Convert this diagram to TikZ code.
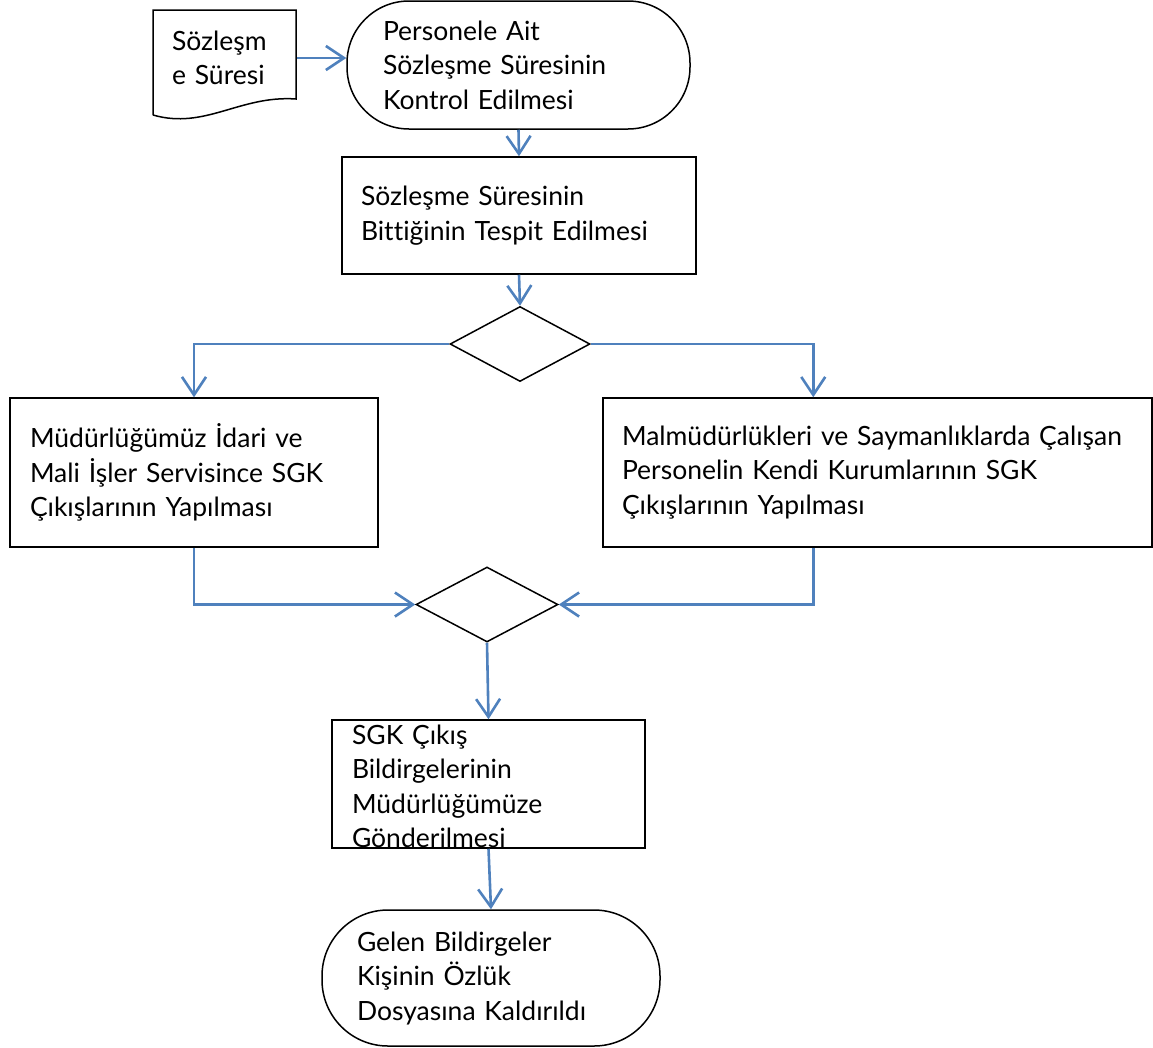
\documentclass[tikz,border=0pt]{standalone}
\usepackage{fontspec}
\setmainfont{Lato}[Ligatures=NoCommon]
\usetikzlibrary{shapes.geometric,arrows.meta}
\definecolor{okmavi}{HTML}{4F81BD}
\begin{document}
\begin{tikzpicture}[x=1pt,y=-1pt,
 kutu/.style={draw,line width=1.5pt,rectangle,inner sep=0pt,align=left,font=\fontsize{26.5}{34.5}\selectfont},
 uc/.style={kutu,rounded corners=62pt},
 karar/.style={draw,line width=1.5pt,diamond,inner sep=0pt,minimum width=140pt,minimum height=75pt},
 ok/.style={draw=okmavi,line width=2.6pt,-{Straight Barb[length=18pt,width=24pt]}}]
\useasboundingbox (0,0) rectangle (1153,1047);
\node[kutu,draw=none,minimum width=143,minimum height=96,text width=105] (sure) at (224.5,58) {Sözleşm\\e Süresi};
\draw[line width=1.5pt] (153,115)--(153,10)--(296,10)--(296,99) .. controls (240,95) and (205,130) .. (153,115);
\node[uc,minimum width=343,minimum height=128,text width=271] (kontrol) at (518.5,65) {Personele Ait\\Sözleşme Süresinin\\Kontrol Edilmesi};
\node[kutu,minimum width=354,minimum height=117,text width=316] (bitis) at (519,215.5) {Sözleşme Süresinin\\Bittiğinin Tespit Edilmesi};
\node[karar] (k1) at (520,344) {};
\node[kutu,minimum width=368,minimum height=149,text width=328] (idari) at (194,472.5) {Müdürlüğümüz İdari ve\\Mali İşler Servisince SGK\\Çıkışlarının Yapılması};
\node[kutu,minimum width=549,minimum height=149,text width=511] (malmud) at (877.5,472.5) {Malmüdürlükleri ve Saymanlıklarda Çalışan\\Personelin Kendi Kurumlarının SGK\\Çıkışlarının Yapılması};
\node[karar,minimum width=142] (k2) at (487,604.5) {};
\node[kutu,minimum width=313,minimum height=128] (sgk) at (488.5,784) {};
\node[kutu,draw=none,text width=273] (sgkyazi) at ([yshift=-2.5pt]sgk) {SGK Çıkış\\Bildirgelerinin\\Müdürlüğümüze\\Gönderilmesi};
\node[uc,rounded corners=66pt,minimum width=338,minimum height=136,text width=268] (ozluk) at (491,978) {Gelen Bildirgeler\\Kişinin Özlük\\Dosyasına Kaldırıldı};
\draw[ok] (sure.east)--(sure.east -| kontrol.west);
\draw[ok] (kontrol.south)--(bitis.north);
\draw[ok] (bitis.south)--(k1.north);
\draw[ok] (k1.west)-|(idari.north);
\draw[ok] (k1.east)-|([xshift=211pt]malmud.north west);
\draw[ok] (idari.south)|-(k2.west);
\draw[ok] ([xshift=211pt]malmud.south west)|-(k2.east);
\draw[ok] (k2.south)--(sgk.north);
\draw[ok] (sgk.south)--(ozluk.north);
\end{tikzpicture}
\end{document}
